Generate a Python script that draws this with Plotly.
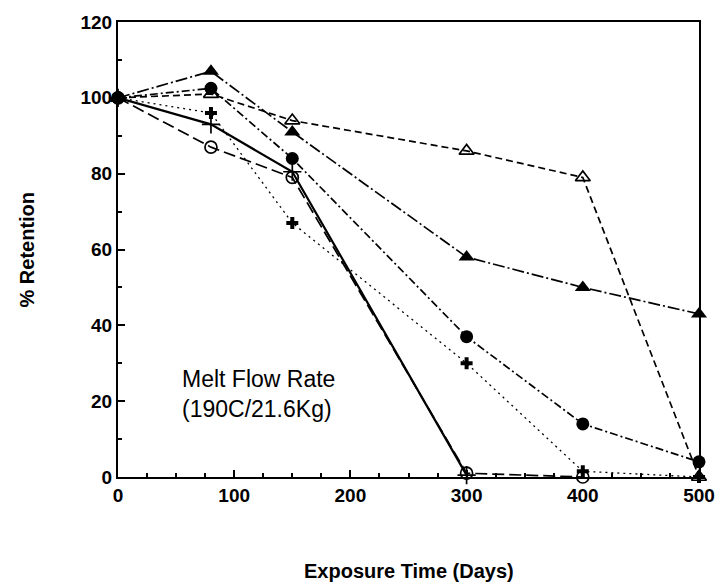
import plotly.graph_objects as go

# Exposure time (days)
days = [0, 80, 150, 300, 400, 500]

# % retention of melt flow rate for each sample
filled_triangle = [100, 107, 91, 58, 50, 43]
filled_circle = [100, 102.5, 84, 37, 14, 4]
open_triangle = [100, 101, 94, 86, 79, 0]
bold_plus = [100, 96, 67, 30, 1.5, 0]
thin_plus_days = [0, 80, 150, 300]
thin_plus = [100, 93, 80.5, 0.5]
open_circle_days = [0, 80, 150, 300, 400]
open_circle = [100, 87, 79, 1, 0]

x_ticks = [0, 100, 200, 300, 400, 500]
y_ticks = [0, 20, 40, 60, 80, 100, 120]

BLACK = "#000000"
FONT = "Liberation Sans, Arial, Helvetica, sans-serif"

fig = go.Figure()

def add(xs, ys, dash, symbol, size, lw=1.7, mlw=1.7):
    fig.add_trace(go.Scatter(
        x=xs, y=ys, mode="lines+markers", cliponaxis=False, showlegend=False,
        line=dict(color=BLACK, width=lw, dash=dash),
        marker=dict(symbol=symbol, size=size, color=BLACK,
                    line=dict(color=BLACK, width=mlw)),
    ))

add(days, open_triangle, "7px,4px", "triangle-up-open", 13)
add(days, bold_plus, "2px,4px", "cross", 10, lw=1.3, mlw=0)
add(open_circle_days, open_circle, "12px,5px", "circle-open", 12)
add(thin_plus_days, thin_plus, "solid", "cross-thin-open", 13, lw=2.2)
add(days, filled_circle, "8px,3px,2px,3px", "circle", 13, mlw=0)
add(days, filled_triangle, "12px,3px,2px,3px", "triangle-up", 14, mlw=0)

axis_common = dict(
    showline=True, linecolor=BLACK, linewidth=2, mirror=True,
    ticks="inside", ticklen=7, tickwidth=1.5, tickcolor=BLACK,
    showgrid=False, zeroline=False,
    tickfont=dict(family=FONT, size=19, color=BLACK, weight="bold"),
)

fig.update_xaxes(range=[0, 500], tickvals=x_ticks,
                 minor=dict(dtick=25, ticks="inside", ticklen=4, tickwidth=1.5, tickcolor=BLACK),
                 **axis_common)
fig.update_yaxes(range=[0, 120], tickvals=y_ticks,
                 minor=dict(dtick=10, ticks="inside", ticklen=4, tickwidth=1.5, tickcolor=BLACK),
                 **axis_common)

fig.add_annotation(text="Melt Flow Rate<br>(190C/21.6Kg)", x=53, y=21.8,
                   xref="x", yref="y", xanchor="left", yanchor="middle",
                   align="left", showarrow=False,
                   font=dict(family=FONT, size=23, color=BLACK))
fig.add_annotation(text="Exposure Time (Days)", x=0.5, y=0, xref="paper", yref="paper",
                   xanchor="center", yanchor="middle", yshift=-94, showarrow=False,
                   font=dict(family=FONT, size=20, color=BLACK, weight="bold"))
fig.add_annotation(text="% Retention", x=0, y=0.5, xref="paper", yref="paper",
                   xanchor="center", yanchor="middle", xshift=-92, textangle=-90,
                   showarrow=False,
                   font=dict(family=FONT, size=20, color=BLACK, weight="bold"))

fig.update_layout(
    width=727, height=587,
    margin=dict(l=118, r=24, t=15, b=110),
    paper_bgcolor="white", plot_bgcolor="white",
)

fig.write_html("out.html")
